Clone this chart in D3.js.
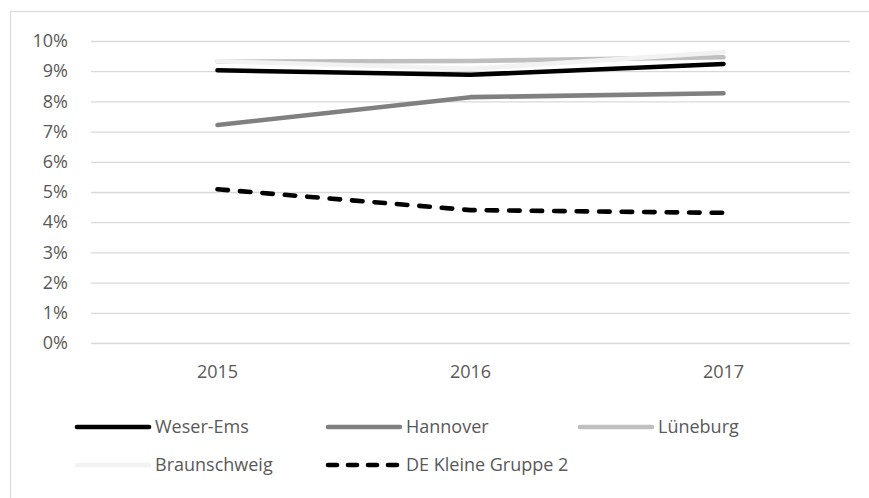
<!DOCTYPE html>
<html>
<head>
<meta charset="utf-8">
<script src="https://cdn.jsdelivr.net/npm/d3@7"></script>
<style>
  html, body { margin: 0; padding: 0; background: #fff; }
  svg { display: block; font-family: "Open Sans", sans-serif; }
</style>
</head>
<body>
<div id="chart"></div>
<script>
// Years on the category axis
const years = ["2015", "2016", "2017"];

// Shares per region (fractions)
const weserEms     = [0.0903, 0.0888, 0.0924];
const hannover     = [0.0722, 0.0814, 0.0827];
const lueneburg    = [0.0932, 0.0934, 0.0946];
const braunschweig = [0.0933, 0.0908, 0.0963];
const deKleine     = [0.0509, 0.0440, 0.0431];

// Y tick values
const yTicks = [0, 0.01, 0.02, 0.03, 0.04, 0.05, 0.06, 0.07, 0.08, 0.09, 0.10];

const seriesNames = ["Weser-Ems", "Hannover", "Lüneburg", "Braunschweig", "DE Kleine Gruppe 2"];
const seriesValues = [weserEms, hannover, lueneburg, braunschweig, deKleine];
const seriesColors = ["#000000", "#808080", "#bfbfbf", "#f2f2f2", "#000000"];
const seriesDash   = [null, null, null, null, "10.5,12"];

const W = 869, H = 498;
const plot = { left: 91, right: 850, top: 41, bottom: 343 };
const fontSize = "18px";

const svg = d3.select("#chart").append("svg")
  .attr("width", W).attr("height", H);

// chart frame (only top and left edges fall inside the view)
svg.append("rect")
  .attr("x", 10.5).attr("y", 11.5)
  .attr("width", W + 20).attr("height", H + 20)
  .attr("fill", "none").attr("stroke", "#d9d9d9").attr("stroke-width", 1.2);

const x = d3.scaleBand().domain(years).range([plot.left, plot.right]).padding(0);
const y = d3.scaleLinear().domain([0, 0.10]).range([plot.bottom, plot.top]);

// horizontal gridlines + percent labels
const yAxis = d3.axisLeft(y)
  .tickValues(yTicks)
  .tickFormat(d3.format(".0%"))
  .tickSize(-(plot.right - plot.left))
  .tickPadding(23);

const gy = svg.append("g")
  .attr("transform", `translate(${plot.left},0)`)
  .call(yAxis);
gy.select(".domain").remove();
gy.selectAll(".tick line").attr("stroke", "#d9d9d9").attr("stroke-width", 1.3);
gy.selectAll(".tick text")
  .attr("fill", "#595959")
  .style("font-size", fontSize)
  .style("font-family", "'Open Sans', sans-serif");

// category labels
const xAxis = d3.axisBottom(x).tickSize(0).tickPadding(22);
const gx = svg.append("g")
  .attr("transform", `translate(0,${plot.bottom})`)
  .call(xAxis);
gx.select(".domain").remove();
gx.selectAll(".tick text")
  .attr("fill", "#595959")
  .style("font-size", fontSize)
  .style("font-family", "'Open Sans', sans-serif");

// series lines
const line = d3.line()
  .x((d, i) => x(years[i]) + x.bandwidth() / 2)
  .y(d => y(d));

seriesValues.forEach((vals, k) => {
  svg.append("path")
    .datum(vals)
    .attr("d", line)
    .attr("fill", "none")
    .attr("stroke", seriesColors[k])
    .attr("stroke-width", 4.6)
    .attr("stroke-linecap", "round")
    .attr("stroke-linejoin", "round")
    .attr("stroke-dasharray", seriesDash[k]);
});

// legend, two rows
const legendPos = [
  { x: 77, y: 427 }, { x: 328, y: 427 }, { x: 580, y: 427 },
  { x: 77, y: 465 }, { x: 328, y: 465 }
];
const lg = svg.append("g");
seriesNames.forEach((name, k) => {
  const p = legendPos[k];
  const g = lg.append("g").attr("transform", `translate(${p.x},${p.y})`);
  g.append("line")
    .attr("x1", 0).attr("x2", 72)
    .attr("y1", 0).attr("y2", 0)
    .attr("stroke", seriesColors[k])
    .attr("stroke-width", 4.6)
    .attr("stroke-linecap", "round")
    .attr("stroke-dasharray", seriesDash[k] ? "9,11" : null);
  g.append("text")
    .attr("x", 78).attr("y", 0)
    .attr("dy", "0.35em")
    .attr("fill", "#595959")
    .style("font-size", fontSize)
    .text(name);
});
</script>
</body>
</html>
